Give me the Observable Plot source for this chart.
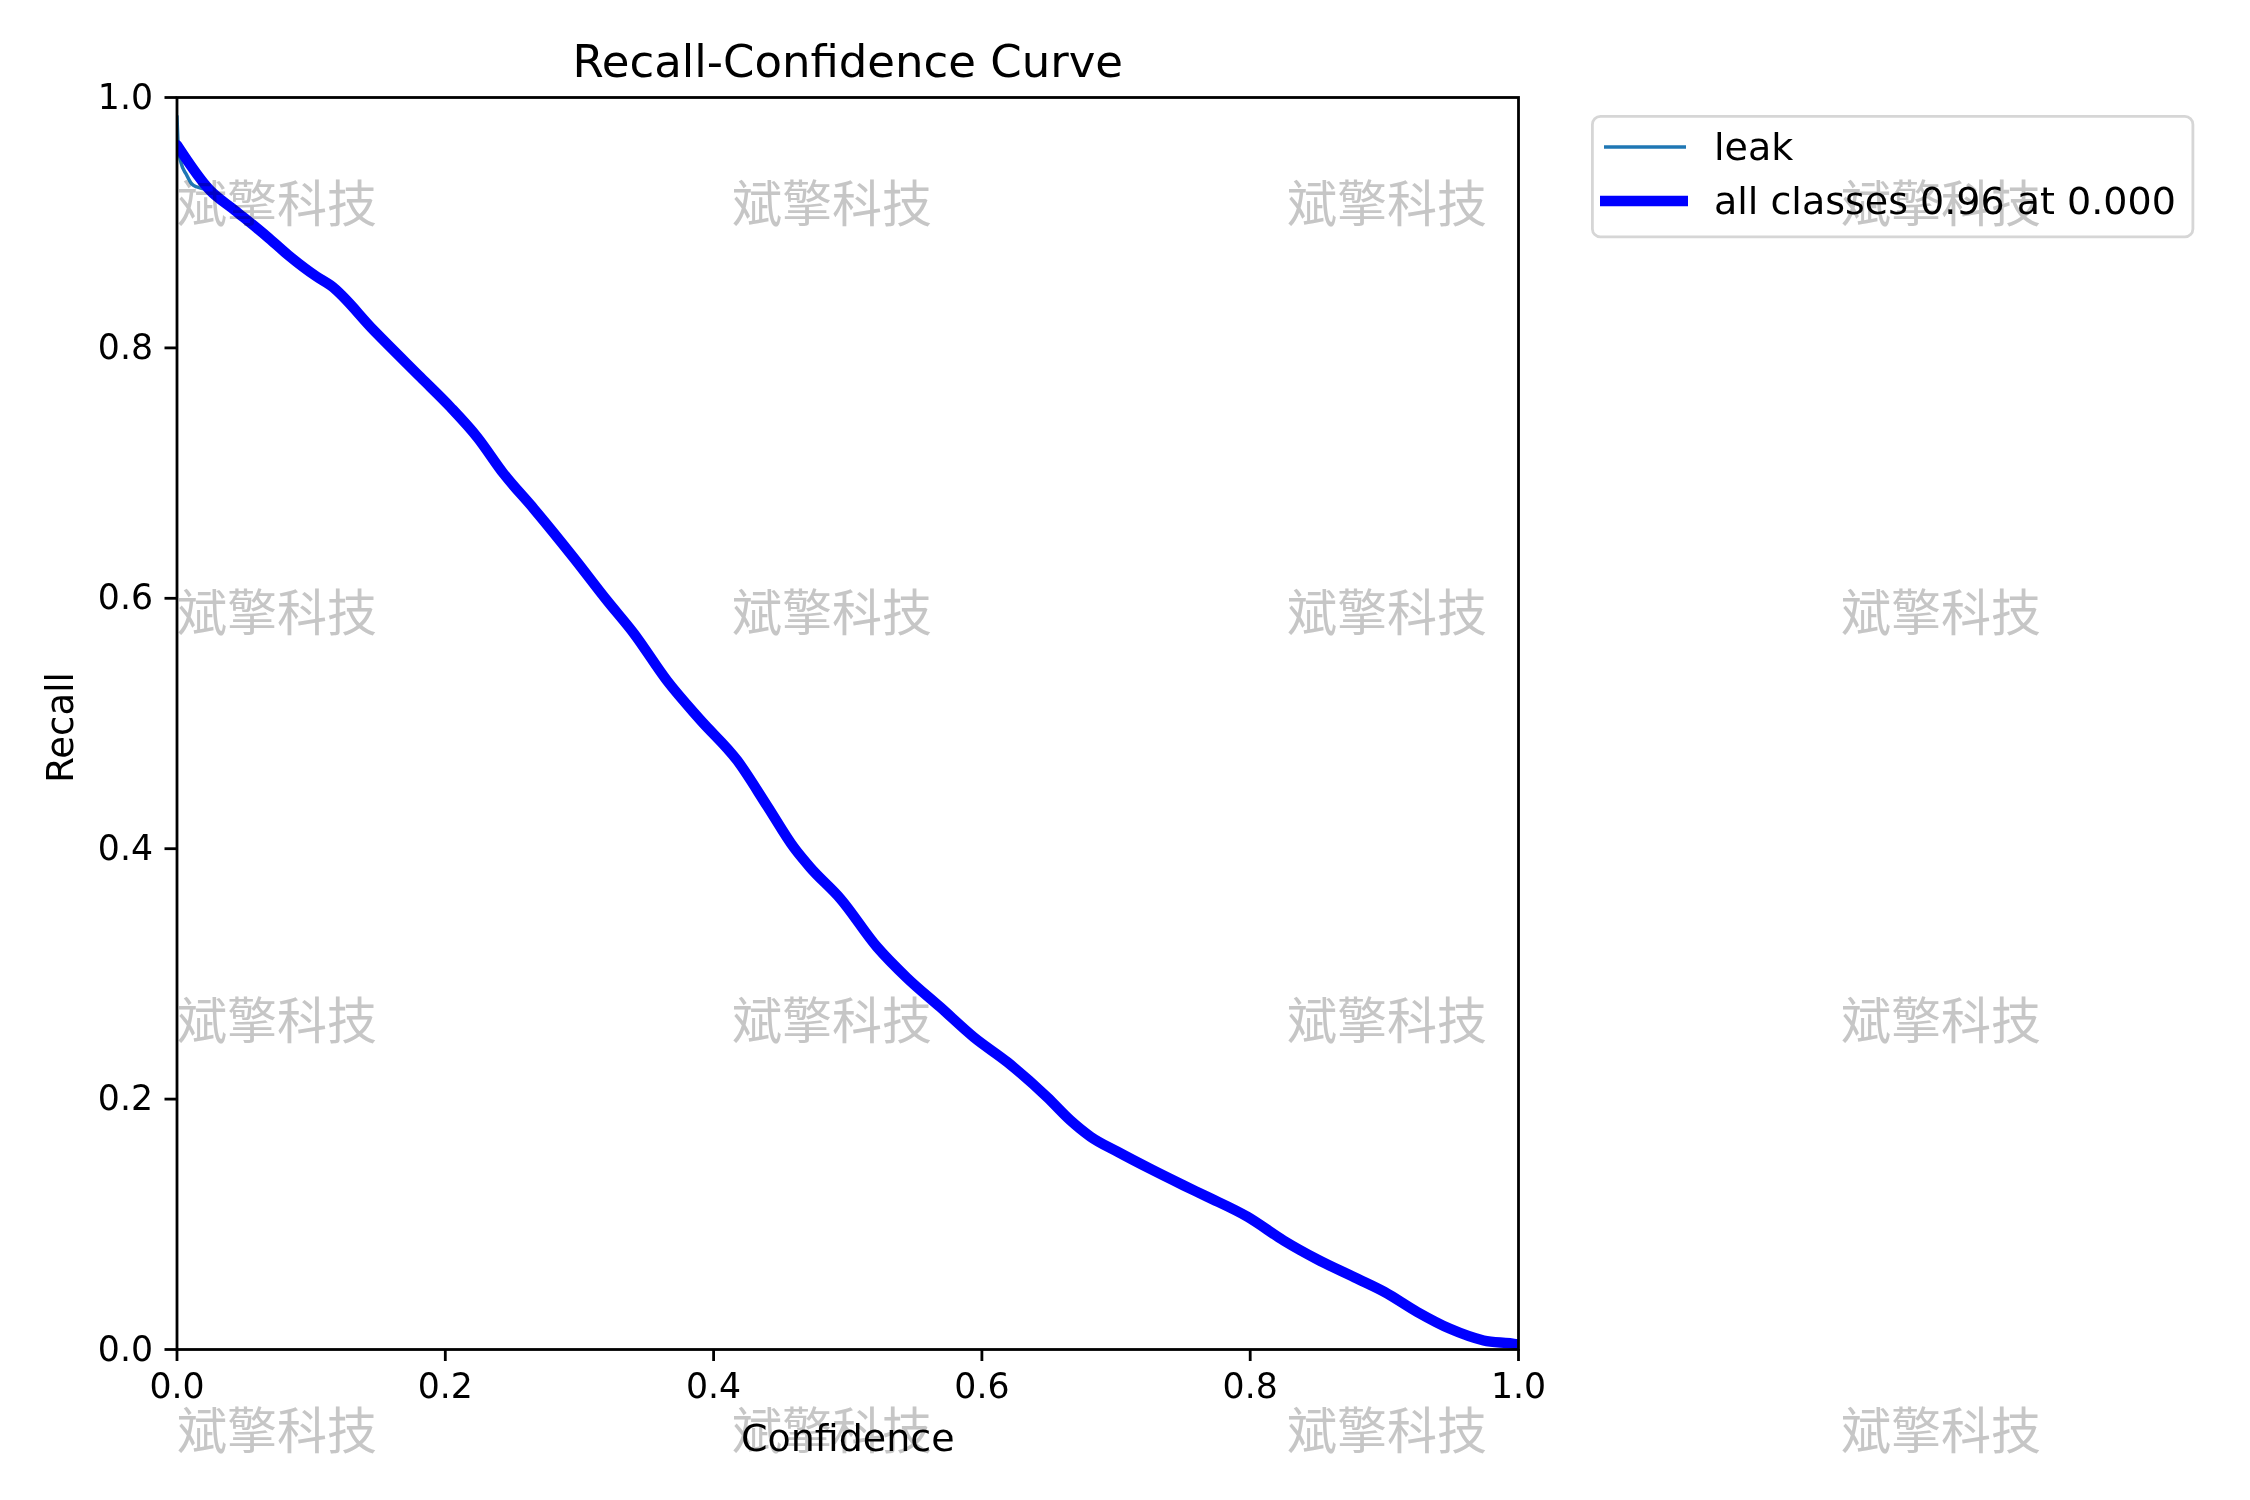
<!DOCTYPE html>
<html>
<head>
<meta charset="utf-8">
<script src="https://cdn.jsdelivr.net/npm/d3@7"></script>
<script src="https://cdn.jsdelivr.net/npm/@observablehq/plot@0.6"></script>
<style>
  html, body { margin: 0; padding: 0; background: #ffffff; }
  #wrap { position: relative; width: 2250px; height: 1500px; overflow: hidden; background: #ffffff; }
  #wrap > svg, #wrap > div { position: absolute; left: 0; top: 0; }
  #watermarks { mix-blend-mode: multiply; pointer-events: none; }
</style>
</head>
<body>
<div id="wrap"></div>
<script>
// ---------------- data ----------------
const titleText = "Recall-Confidence Curve";
const xLabel = "Confidence";
const yLabel = "Recall";
const seriesNames = ["leak", "all classes"];
const xTicks = [0, 0.2, 0.4, 0.6, 0.8, 1.0];
const yTicks = [0, 0.2, 0.4, 0.6, 0.8, 1.0];

// "all classes" curve
const confidence = [
  0.000, 0.0245, 0.043, 0.067, 0.083, 0.104, 0.1144, 0.1467, 0.1815, 0.2039,
  0.2238, 0.2436, 0.266, 0.296, 0.3207, 0.3405, 0.3654, 0.390, 0.4176, 0.440,
  0.4598, 0.472, 0.4946, 0.522, 0.544, 0.569, 0.594, 0.619, 0.6487, 0.666,
  0.681, 0.701, 0.726, 0.7505, 0.768, 0.798, 0.825, 0.850, 0.880, 0.900,
  0.9245, 0.949, 0.974, 0.999, 1.000
];
const allClassesRecall = [
  0.962, 0.926, 0.910, 0.889, 0.874, 0.857, 0.850, 0.814, 0.7766, 0.7526,
  0.7287, 0.6994, 0.6715, 0.632, 0.598, 0.572, 0.534, 0.503, 0.4705, 0.434,
  0.401, 0.385, 0.360, 0.3213, 0.297, 0.2734, 0.2494, 0.2295, 0.2015, 0.183,
  0.170, 0.158, 0.144, 0.131, 0.122, 0.106, 0.087, 0.072, 0.0565, 0.046,
  0.030, 0.0165, 0.0072, 0.004, 0.003
];

// "leak" curve: its own start, then it runs under the "all classes" curve
const leakHeadConfidence = [0.000, 0.001, 0.003, 0.007, 0.011, 0.015, 0.0205];
const leakHeadRecall     = [0.985, 0.960, 0.948, 0.9385, 0.931, 0.9285, 0.927];

// ---------------- build tables ----------------
const allData = confidence.map((c, i) => ({x: c, y: allClassesRecall[i]}));
const leakData = leakHeadConfidence.map((c, i) => ({x: c, y: leakHeadRecall[i]}))
  .concat(allData.filter(d => d.x > leakHeadConfidence[leakHeadConfidence.length - 1]));

// ---------------- layout ----------------
const W = 2250, H = 1500;
const plotLeft = 176.5, plotRight = 1518, plotTop = 97, plotBottom = 1349;
const FONT = "DejaVu Sans, sans-serif";

const chart = Plot.plot({
  width: W,
  height: H,
  marginLeft: plotLeft,
  marginRight: W - plotRight,
  marginTop: plotTop,
  marginBottom: H - plotBottom,
  style: {fontFamily: FONT, background: "transparent", color: "black", overflow: "visible"},
  x: {domain: [0, 1]},
  y: {domain: [0, 1]},
  marks: [
    Plot.line(leakData, {x: "x", y: "y", stroke: "#1f77b4", strokeWidth: 3.5,
      curve: "monotone-x", clip: true, strokeLinejoin: "round"}),
    Plot.line(allData, {x: "x", y: "y", stroke: "#0000ff", strokeWidth: 10.4,
      curve: "monotone-x", clip: true, strokeLinejoin: "round"}),
    Plot.frame({stroke: "black", strokeWidth: 2.8}),
    Plot.axisX({ticks: xTicks, tickFormat: d3.format(".1f"), tickSize: 12, tickPadding: 12,
      fontSize: 34.7, strokeWidth: 2.8, label: null}),
    Plot.axisY({ticks: yTicks, tickFormat: d3.format(".1f"), tickSize: 12, tickPadding: 12,
      fontSize: 34.7, strokeWidth: 2.8, label: null}),
    Plot.text([titleText], {text: d => d, frameAnchor: "top", dy: -20.8, lineAnchor: "bottom",
      fontSize: 45, fill: "black"}),
    Plot.text([xLabel], {text: d => d, frameAnchor: "bottom", dy: 101, lineAnchor: "bottom",
      fontSize: 38, fill: "black"}),
    Plot.text([yLabel], {text: d => d, frameAnchor: "left", dx: -104.5, dy: 4, rotate: -90,
      textAnchor: "middle", lineAnchor: "bottom", fontSize: 37, fill: "black"})
  ]
});
const wrap = document.getElementById("wrap");
wrap.appendChild(chart);

// ---------------- legend ----------------
const ns = "http://www.w3.org/2000/svg";
function el(name, attrs, parent) {
  const e = document.createElementNS(ns, name);
  for (const k in attrs) e.setAttribute(k, attrs[k]);
  if (parent) parent.appendChild(e);
  return e;
}
let maxI = d3.maxIndex(allClassesRecall);
const allLabel = `${seriesNames[1]} ${d3.format(".2f")(allClassesRecall[maxI])} at ${d3.format(".3f")(confidence[maxI])}`;

const legend = el("svg", {width: W, height: H, viewBox: `0 0 ${W} ${H}`});
legend.style.pointerEvents = "none";
el("rect", {x: 1592.4, y: 116.4, width: 600.5, height: 120.5, rx: 8, ry: 8,
  fill: "rgba(255,255,255,0.8)", stroke: "#d6d6d6", "stroke-width": 2.8}, legend);
el("line", {x1: 1604, x2: 1686, y1: 147, y2: 147, stroke: "#1f77b4", "stroke-width": 3.5}, legend);
el("line", {x1: 1600, x2: 1688, y1: 201, y2: 201, stroke: "#0000ff", "stroke-width": 10.4}, legend);
const t1 = el("text", {x: 1714, y: 160, "font-size": 38, "font-family": FONT, fill: "black"}, legend);
t1.textContent = seriesNames[0];
const t2 = el("text", {x: 1714, y: 214, "font-size": 38, "font-family": FONT, fill: "black"}, legend);
t2.textContent = allLabel;
wrap.appendChild(legend);

// ---------------- watermark ----------------
const wmText = "斌擎科技";
const wm = el("svg", {width: W, height: H, viewBox: `0 0 ${W} ${H}`, id: "watermarks"});
const wmCols = [177, 732, 1287, 1841];
const wmRows = [221.5, 630.5, 1038.5, 1448.5];
for (const yy of wmRows) for (const xx of wmCols) {
  const t = el("text", {x: xx, y: yy, "font-size": 50, "font-family": "Noto Sans CJK SC", fill: "#c6c6c6"}, wm);
  t.textContent = wmText;
}
wrap.appendChild(wm);
</script>
</body>
</html>
